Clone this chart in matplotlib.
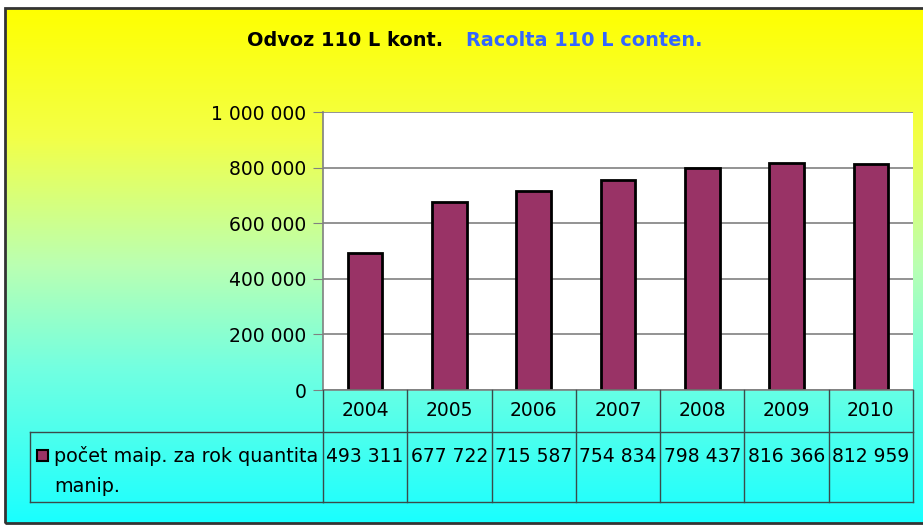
import numpy as np
import matplotlib.pyplot as plt
from matplotlib.colors import LinearSegmentedColormap
from matplotlib.patches import Rectangle
from matplotlib.ticker import FuncFormatter

plt.rcParams['font.family'] = ['DejaVu Sans']

years = ['2004', '2005', '2006', '2007', '2008', '2009', '2010']
values = [493311, 677722, 715587, 754834, 798437, 816366, 812959]
series_name = 'počet maip. za rok quantita\nmanip.'
title_cz = 'Odvoz 110 L kont.'
title_it = 'Racolta 110 L conten.'

W, H = 923, 525
fig = plt.figure(figsize=(W / 100, H / 100), dpi=100)


def px(x0, y0, x1, y1):
    # pixel box (top-left origin) -> figure fraction rect
    return [x0 / W, 1 - y1 / H, (x1 - x0) / W, (y1 - y0) / H]


def space_fmt(v, pos=None):
    return '{:,}'.format(int(round(v))).replace(',', ' ')


# gradient background
bg = fig.add_axes(px(5, 8, 923, 523), zorder=0)
cmap = LinearSegmentedColormap.from_list('bg', [
    (0.0, (1.0, 1.0, 0.0)),
    (0.25, (0.95, 1.0, 0.28)),
    (0.5, (0.73, 1.0, 0.70)),
    (0.7, (0.45, 1.0, 0.88)),
    (1.0, (0.10, 1.0, 1.0)),
])
grad = np.linspace(0, 1, 256).reshape(-1, 1)
bg.imshow(grad, aspect='auto', cmap=cmap, extent=[0, 1, 0, 1], origin='upper')
bg.set_axis_off()
fig.patches.append(Rectangle((5 / W, 1 - 523 / H), 925 / W, 515 / H,
                             transform=fig.transFigure, fill=False,
                             edgecolor='#333333', linewidth=2, zorder=10))

# title
fig.text(443 / W, 1 - 40 / H, title_cz, ha='right', va='center',
         fontsize=13.9, fontweight='bold', color='black')
fig.text(466 / W, 1 - 40 / H, title_it, ha='left', va='center',
         fontsize=13.9, fontweight='bold', color='#3366FF')

# plot area
ax = fig.add_axes(px(323, 112, 913, 390), zorder=2)
ax.set_facecolor('white')
x = np.arange(len(years))
ax.bar(x, values, width=0.41, color='#993366', edgecolor='black',
       linewidth=2, zorder=3)
ax.set_xlim(-0.5, len(years) - 0.5)
ax.set_ylim(0, 1000000)
ax.set_yticks(np.arange(0, 1000001, 200000))
ax.yaxis.set_major_formatter(FuncFormatter(space_fmt))
ax.grid(axis='y', color='#808080', linewidth=1.2, zorder=1)
ax.set_xticks([])
for s in ['top', 'right', 'bottom']:
    ax.spines[s].set_visible(False)
ax.spines['left'].set_color('#808080')
ax.spines['left'].set_linewidth(1.2)
ax.tick_params(axis='y', direction='out', length=7, color='#808080',
               labelsize=13.5, pad=5)

# data table
tab = fig.add_axes(px(323, 390, 913, 502), zorder=2)
tab.set_xlim(-0.5, len(years) - 0.5)
tab.set_ylim(0, 112)
tab.set_axis_off()
lc = '#3a4a4a'
tab.plot([-0.5, len(years) - 0.5], [112, 112], color='#808080', lw=1.2, clip_on=False)
tab.plot([-0.5, len(years) - 0.5], [70, 70], color=lc, lw=1, clip_on=False)
tab.plot([-0.5, len(years) - 0.5], [0, 0], color=lc, lw=1, clip_on=False)
for i in range(len(years) + 1):
    tab.plot([i - 0.5, i - 0.5], [0, 112], color=lc, lw=1, clip_on=False)
for i, (yr, v) in enumerate(zip(years, values)):
    tab.text(i, 91, yr, ha='center', va='center', fontsize=13.5)
    tab.text(i, 46, space_fmt(v), ha='center', va='center', fontsize=13.5)

# legend cell of the table
leg = fig.add_axes(px(30, 432, 323, 502), zorder=2)
leg.set_xlim(30, 323)
leg.set_ylim(502, 432)
leg.set_axis_off()
leg.plot([30, 323], [432, 432], color=lc, lw=1, clip_on=False)
leg.plot([30, 323], [502, 502], color=lc, lw=1, clip_on=False)
leg.plot([30, 30], [432, 502], color=lc, lw=1, clip_on=False)
leg.add_patch(Rectangle((37, 450), 11, 11, facecolor='#993366',
                        edgecolor='black', linewidth=1.5))
leg.text(54, 446, series_name, ha='left', va='top', fontsize=13.8,
         linespacing=1.75, clip_on=False)

fig.savefig('out.png', dpi=100)
